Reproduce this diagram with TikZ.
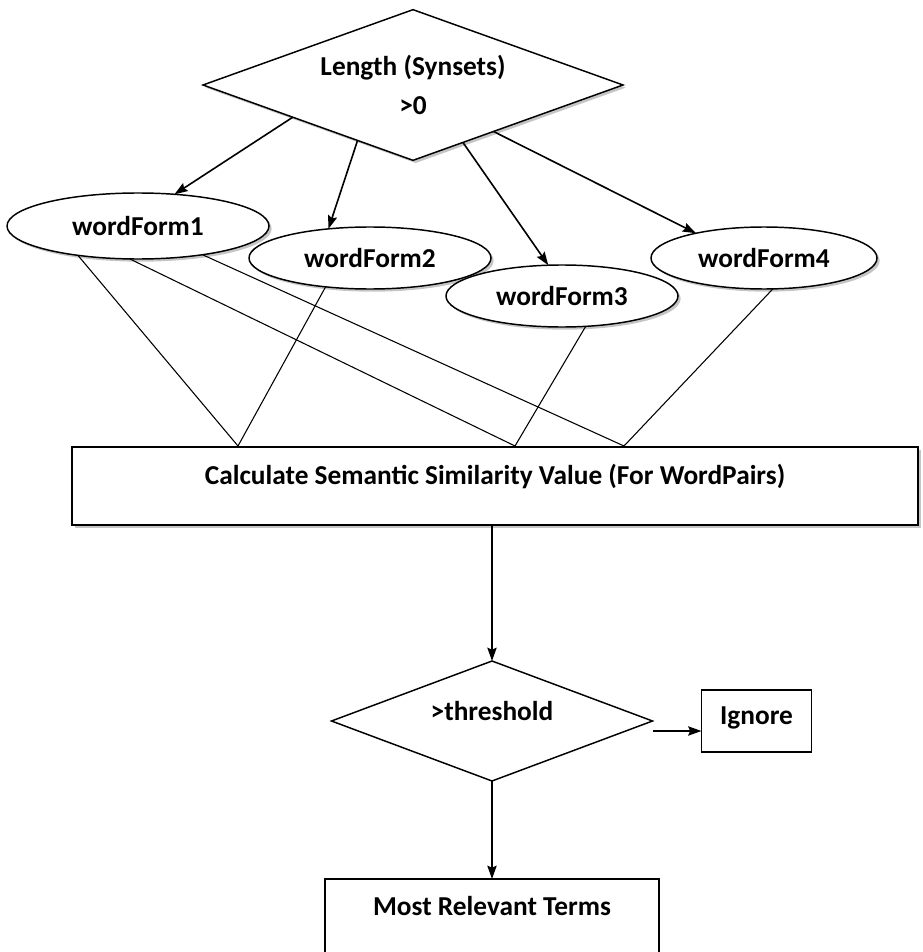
\documentclass[tikz,border=0pt]{standalone}
\usepackage{fontspec}
\setmainfont{Carlito}
\usepackage{tikz}
\usetikzlibrary{positioning}
\usetikzlibrary{shapes,shapes.geometric,shadows,arrows.meta}
\newcommand{\boxfont}{\bfseries\fontsize{20.5pt}{24.5pt}\selectfont}
\tikzstyle{shaded}   = [drop shadow={shadow xshift=2pt, shadow yshift=-2pt, fill=black!45}]
\tikzstyle{decision} = [diamond, draw, line width=1.1pt, fill=white, inner sep=0pt, outer sep=0pt, text centered, font=\boxfont]
\tikzstyle{wordnode} = [ellipse, draw, line width=1.1pt, fill=white, inner sep=0pt, outer sep=0pt, text centered, font=\boxfont, shaded]
\tikzstyle{process}  = [rectangle, draw, line width=1.1pt, fill=white, inner sep=0pt, outer sep=0pt, text centered, font=\boxfont, text height=14.5pt]
\tikzstyle{flow}     = [draw, line width=1.2pt, -{Stealth[length=10pt,width=7pt,inset=1.5pt]}]
\tikzstyle{pairline} = [draw, line width=0.8pt]

\begin{document}
\begin{tikzpicture}[x=0.75pt, y=-0.75pt]
	\useasboundingbox (0,0) rectangle (923,952);
	\clip (0,0) rectangle (923,952);
	% place nodes
	\node [decision, shaded, aspect=2.8, minimum width=315pt, minimum height=113pt, align=center] (len) at (413,85) {Length (Synsets)\\[5pt]>0};
	\node [wordnode, minimum width=196.5pt, minimum height=49.5pt] (wf1) at (138,226) {wordForm1};
	\node [wordnode, minimum width=181.5pt, minimum height=46.5pt] (wf2) at (370,258) {wordForm2};
	\node [wordnode, minimum width=174pt, minimum height=46.5pt]   (wf3) at (562,296) {wordForm3};
	\node [wordnode, minimum width=169.5pt, minimum height=46.5pt] (wf4) at (764,258) {wordForm4};
	\node [process, shaded, minimum width=634.5pt, minimum height=58.5pt, text depth=16.5pt] (calc) at (495,486) {Calculate Semantic Similarity Value (For WordPairs)};
	\node [decision, aspect=2.7, minimum width=240.75pt, minimum height=90pt, text height=14.5pt, text depth=15pt] (thr) at (492,721) {>threshold};
	\node [process, right=36.75pt of thr, minimum width=82.5pt, minimum height=46.5pt, text depth=9pt] (ign) {Ignore};
	\node [process, below=73.5pt of thr, minimum width=250.5pt, minimum height=75pt, text depth=34.5pt] (msr) {Most Relevant Terms};

	% meeting points on the box
	\coordinate (v1) at (238,446);
	\coordinate (v2) at (515,446);
	\coordinate (v3) at (624,446);

	% draw edges
	\path [flow] (len.195) -- (wf1.41);
	\path [flow] (len.225) -- (wf2.145);
	\path [flow] (len.311) -- (wf3.114);
	\path [flow] (len.330) -- (wf4.160);
	\path [pairline] (wf1.206) -- (v1) -- (wf2.213);
	\path [pairline] (wf1.256) -- (v2) -- (wf3.308);
	\path [pairline] (wf1.336) -- (v3) -- (wf4.286);
	\path [flow] (calc.south -| thr.north) -- (thr.north);
	\path [flow] (thr) -- (msr);
	\path [flow] ([yshift=-7.5pt]thr.east) -- ([yshift=-7.5pt]thr.east -| ign.west);
\end{tikzpicture}
\end{document}
